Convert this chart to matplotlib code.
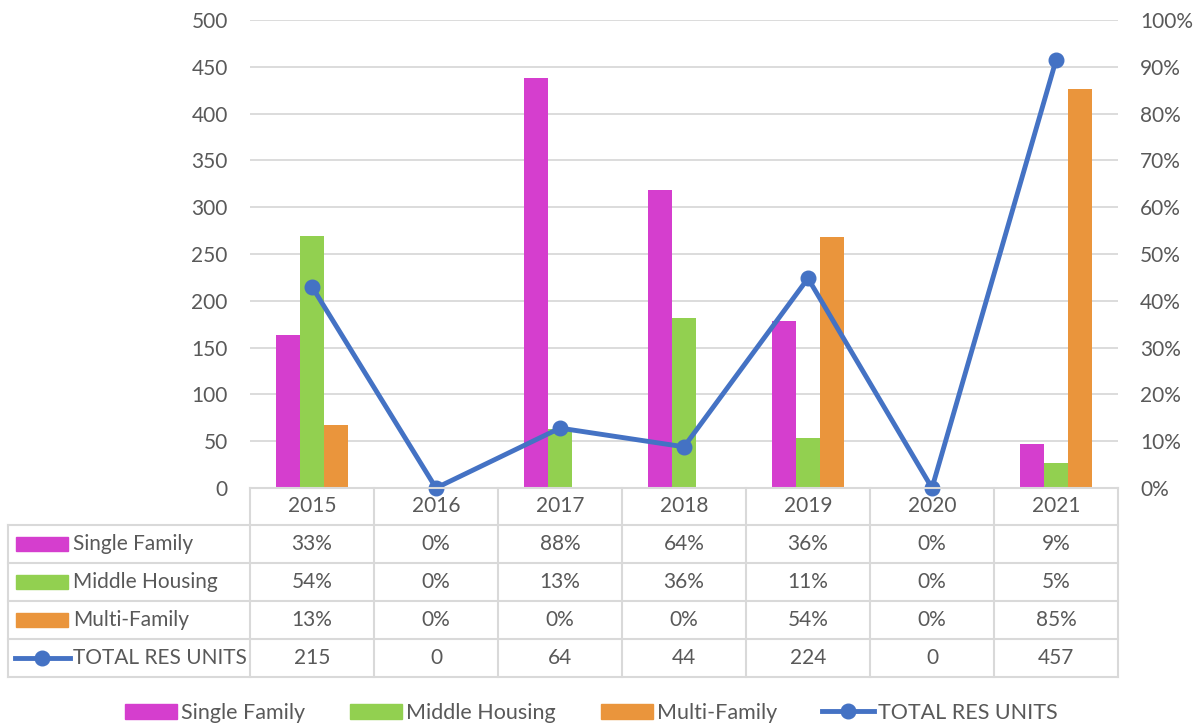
import numpy as np
import matplotlib.pyplot as plt
from matplotlib import transforms
from matplotlib.lines import Line2D
from matplotlib.patches import Rectangle, Patch
from matplotlib.ticker import PercentFormatter, MultipleLocator

plt.rcParams['font.family'] = ['Lato', 'DejaVu Sans']

# data
years = ['2015', '2016', '2017', '2018', '2019', '2020', '2021']
single_family = [0.326, 0, 0.876, 0.637, 0.357, 0, 0.094]
middle_housing = [0.539, 0, 0.126, 0.363, 0.107, 0, 0.053]
multi_family = [0.134, 0, 0, 0, 0.536, 0, 0.853]
total_units = [215, 0, 64, 44, 224, 0, 457]

c_sf = '#D53ECE'
c_mh = '#92D050'
c_mf = '#EA953C'
c_line = '#4472C4'
c_text = '#595959'
c_grid = '#D9D9D9'
fs = 15

W, H = 1195, 723
fig = plt.figure(figsize=(W / 100, H / 100), dpi=100)

def fx(px):
    return px / W

def fy(py):
    return 1 - py / H

ax = fig.add_axes([fx(250), fy(488), fx(868), 468 / H])
ax2 = ax.twinx()

x = np.arange(len(years))
w = 0.194
ax.bar(x - w, single_family, w, color=c_sf, zorder=2)
ax.bar(x, middle_housing, w, color=c_mh, zorder=2)
ax.bar(x + w, multi_family, w, color=c_mf, zorder=2)
ax.set_ylim(0, 1)
ax.set_xlim(-0.5, len(years) - 0.5)
ax.yaxis.set_major_locator(MultipleLocator(0.1))
ax.yaxis.set_major_formatter(PercentFormatter(1.0, decimals=0))
ax.yaxis.tick_right()
ax.grid(axis='y', color=c_grid, lw=1.3)
ax.set_axisbelow(True)

ax2.plot(x, total_units, color=c_line, lw=3.5, marker='o', ms=10.5, clip_on=False, zorder=5)
ax2.set_ylim(0, 500)
ax2.yaxis.set_major_locator(MultipleLocator(50))
ax2.yaxis.tick_left()

for a in (ax, ax2):
    for s in a.spines.values():
        s.set_visible(False)
    a.tick_params(axis='y', length=0, labelsize=fs, labelcolor=c_text, pad=16)
    a.set_xticks([])

# data table under the plot
rows_px = [488, 525, 563, 601, 639, 677]
left_px, lab_px, right_px = 8, 250, 1118
gl = dict(color=c_grid, lw=1.5, transform=fig.transFigure)
fig.add_artist(Line2D([fx(lab_px), fx(right_px)], [fy(rows_px[0])] * 2, **gl))
for r in rows_px[1:]:
    fig.add_artist(Line2D([fx(left_px), fx(right_px)], [fy(r)] * 2, **gl))
fig.add_artist(Line2D([fx(left_px)] * 2, [fy(rows_px[1]), fy(rows_px[-1])], **gl))
col_w = (right_px - lab_px) / len(years)
for k in range(len(years) + 1):
    xx = fx(lab_px + k * col_w)
    fig.add_artist(Line2D([xx, xx], [fy(rows_px[0]), fy(rows_px[-1])], **gl))

tr = transforms.blended_transform_factory(ax.transData, fig.transFigure)
centers = [(rows_px[i] + rows_px[i + 1]) / 2 for i in range(5)]
table_rows = [years,
              [f'{v:.0%}' for v in single_family],
              [f'{v:.0%}' for v in middle_housing],
              [f'{v:.0%}' for v in multi_family],
              [str(v) for v in total_units]]
for i, row in enumerate(table_rows):
    for j, t in enumerate(row):
        ax.text(x[j], fy(centers[i]), t, transform=tr, ha='center', va='center',
                fontsize=fs, color=c_text, clip_on=False)

labels = ['Single Family', 'Middle Housing', 'Multi-Family', 'TOTAL RES UNITS']
for i, (lab, c) in enumerate(zip(labels[:3], [c_sf, c_mh, c_mf])):
    yc = centers[i + 1]
    fig.add_artist(Rectangle((fx(16), fy(yc + 7)), fx(52), 14 / H, color=c,
                             transform=fig.transFigure))
fig.add_artist(Line2D([fx(15), fx(70)], [fy(centers[4])] * 2, color=c_line, lw=3.5,
                      transform=fig.transFigure))
fig.add_artist(Line2D([fx(42)], [fy(centers[4])], color=c_line, marker='o', ms=10.5,
                      transform=fig.transFigure))
for i, lab in enumerate(labels):
    fig.text(fx(73), fy(centers[i + 1]), lab, ha='left', va='center', fontsize=fs,
             color=c_text)

# bottom legend
handles = [Patch(color=c_sf), Patch(color=c_mh), Patch(color=c_mf),
           Line2D([], [], color=c_line, lw=3.5, marker='o', ms=10.5)]
fig.legend(handles, labels, loc='center', bbox_to_anchor=(0.495, fy(713)), ncol=4,
           frameon=False, fontsize=15.5, labelcolor=c_text, handlelength=2.4,
           handletextpad=0.2, columnspacing=2.1, borderpad=0)

fig.savefig('out.png', dpi=100)
